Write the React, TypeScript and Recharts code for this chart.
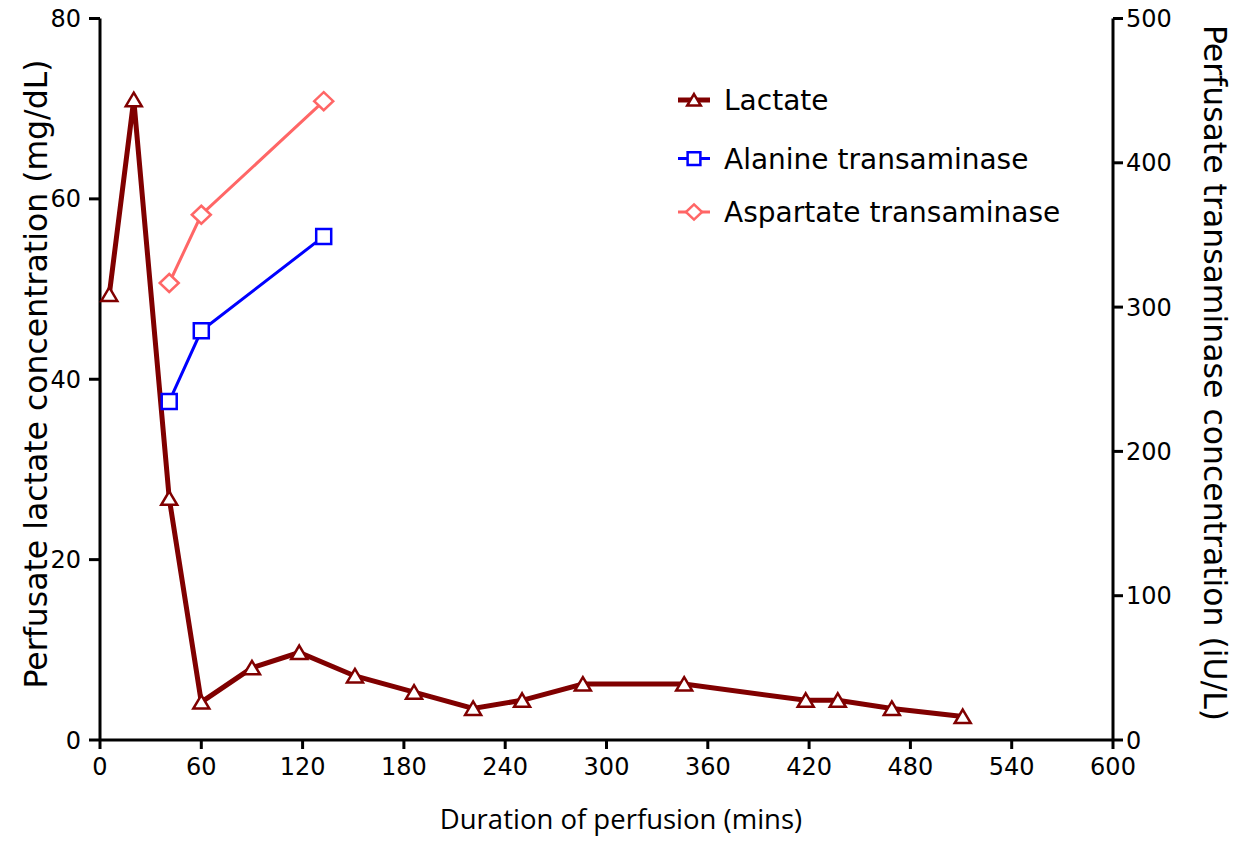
import React from "react";
import {
	Label,
	Legend,
	Line,
	LineChart,
	XAxis,
	YAxis,
} from "recharts";

// minutes of perfusion
const lactateMinutes = [5.5, 20, 41, 60, 90, 118, 151, 186, 221, 250, 286, 346, 418, 437, 469, 511];
// mg/dL
const lactateValues = [49.4, 71.0, 26.8, 4.2, 8.0, 9.7, 7.1, 5.3, 3.5, 4.4, 6.2, 6.2, 4.4, 4.4, 3.5, 2.6];
const enzymeMinutes = [41, 60, 132.5];
// iU/L
const altValues = [234.6, 283.6, 349];
const astValues = [316.7, 364, 442.7];

const xTicks = [0, 60, 120, 180, 240, 300, 360, 420, 480, 540, 600];
const leftTicks = [0, 20, 40, 60, 80];
const rightTicks = [0, 100, 200, 300, 400, 500];

const LACTATE = "#800000";
const ALT = "#0000FF";
const AST = "#FF6666";

const MAIN_FONT = "'DejaVu Sans', Verdana, sans-serif";

const lactateData = lactateMinutes.map((t, i) => ({ t, v: lactateValues[i] }));
const altData = enzymeMinutes.map((t, i) => ({ t, v: altValues[i] }));
const astData = enzymeMinutes.map((t, i) => ({ t, v: astValues[i] }));

const trianglePath = (cx: number, cy: number, s: number) =>
	`M${cx},${cy - s * 7}L${cx + s * 8},${cy + s * 6.5}L${cx - s * 8},${cy + s * 6.5}Z`;
const squarePath = (cx: number, cy: number, s: number) =>
	`M${cx - s * 7.5},${cy - s * 7.5}h${s * 15}v${s * 15}h${-s * 15}Z`;
const diamondPath = (cx: number, cy: number, s: number) =>
	`M${cx},${cy - s * 9}L${cx + s * 9.5},${cy}L${cx},${cy + s * 9}L${cx - s * 9.5},${cy}Z`;

const makeDot =
	(shape: (cx: number, cy: number, s: number) => string, color: string) =>
	(props: any) => {
		const { cx, cy, index } = props;
		if (cx == null || cy == null) return <g key={index} />;
		return (
			<path
				key={index}
				d={shape(cx, cy, 1)}
				fill="#fff"
				stroke={color}
				strokeWidth={2.5}
			/>
		);
	};

const legendItems = [
	{ name: "Lactate", color: LACTATE, shape: trianglePath, width: 5 },
	{ name: "Alanine transaminase", color: ALT, shape: squarePath, width: 3 },
	{ name: "Aspartate transaminase", color: AST, shape: diamondPath, width: 3 },
];
const legendRowY = [20, 78.5, 132];

const renderLegend = () => (
	<svg width={440} height={160}>
		{legendItems.map((item, i) => (
			<g key={item.name}>
				<line
					x1={2}
					x2={34}
					y1={legendRowY[i]}
					y2={legendRowY[i]}
					stroke={item.color}
					strokeWidth={item.width}
				/>
				<path
					d={item.shape(18, legendRowY[i], 0.85)}
					fill="#fff"
					stroke={item.color}
					strokeWidth={2.5}
				/>
				<text
					x={48}
					y={legendRowY[i]}
					dy="0.36em"
					fontSize={28}
					fontFamily={MAIN_FONT}
					fill="#000"
				>
					{item.name}
				</text>
			</g>
		))}
	</svg>
);

const axisLine = { stroke: "#000", strokeWidth: 3 };
const tickStyle = { fill: "#000", fontSize: 24, fontFamily: MAIN_FONT };

const App: React.FC = () => {
	return (
		<div style={{ position: "absolute", left: 0, top: 0 }}>
			<LineChart
				width={1239}
				height={845}
				margin={{ top: 18.5, right: 0, bottom: 0, left: 0 }}
			>
				<XAxis
					dataKey="t"
					type="number"
					domain={[0, 600]}
					ticks={xTicks}
					height={105}
					axisLine={axisLine}
					tickLine={axisLine}
					tickSize={9}
					tickMargin={9}
					tick={tickStyle}
					interval={0}
				>
					<Label
						content={() => (
							<text
								x={621}
								y={829}
								textAnchor="middle"
								fontSize={27.5}
								fontFamily="'Open Sans', 'Noto Sans', sans-serif"
								fill="#000"
							>
								Duration of perfusion (mins)
							</text>
						)}
					/>
				</XAxis>
				<YAxis
					yAxisId="left"
					orientation="left"
					domain={[0, 80]}
					ticks={leftTicks}
					width={100}
					axisLine={axisLine}
					tickLine={axisLine}
					tickSize={11}
					tickMargin={8}
					tick={tickStyle}
					interval={0}
				>
					<Label
						content={() => (
							<text
								x={36}
								y={374}
								transform="rotate(-90 36 374)"
								textAnchor="middle"
								dominantBaseline="central"
								fontSize={31.5}
								fontFamily={MAIN_FONT}
								fill="#000"
							>
								Perfusate lactate concentration (mg/dL)
							</text>
						)}
					/>
				</YAxis>
				<YAxis
					yAxisId="right"
					orientation="right"
					domain={[0, 500]}
					ticks={rightTicks}
					width={126}
					axisLine={axisLine}
					tickLine={axisLine}
					tickSize={10}
					tickMargin={3}
					tick={tickStyle}
					interval={0}
				>
					<Label
						content={() => (
							<text
								x={1215}
								y={373}
								transform="rotate(90 1215 373)"
								textAnchor="middle"
								dominantBaseline="central"
								fontSize={31.5}
								fontFamily={MAIN_FONT}
								fill="#000"
							>
								Perfusate transaminase concentration (iU/L)
							</text>
						)}
					/>
				</YAxis>
				<Legend
					content={renderLegend}
					layout="vertical"
					align="center"
					verticalAlign="middle"
					wrapperStyle={{ left: 676, top: 80, width: 440 }}
				/>
				<Line
					yAxisId="right"
					data={astData}
					dataKey="v"
					name="Aspartate transaminase"
					stroke={AST}
					strokeWidth={3}
					dot={makeDot(diamondPath, AST)}
					activeDot={false}
					isAnimationActive={false}
				/>
				<Line
					yAxisId="right"
					data={altData}
					dataKey="v"
					name="Alanine transaminase"
					stroke={ALT}
					strokeWidth={3}
					dot={makeDot(squarePath, ALT)}
					activeDot={false}
					isAnimationActive={false}
				/>
				<Line
					yAxisId="left"
					data={lactateData}
					dataKey="v"
					name="Lactate"
					stroke={LACTATE}
					strokeWidth={5}
					dot={makeDot(trianglePath, LACTATE)}
					activeDot={false}
					isAnimationActive={false}
				/>
			</LineChart>
		</div>
	);
};

export default App;
